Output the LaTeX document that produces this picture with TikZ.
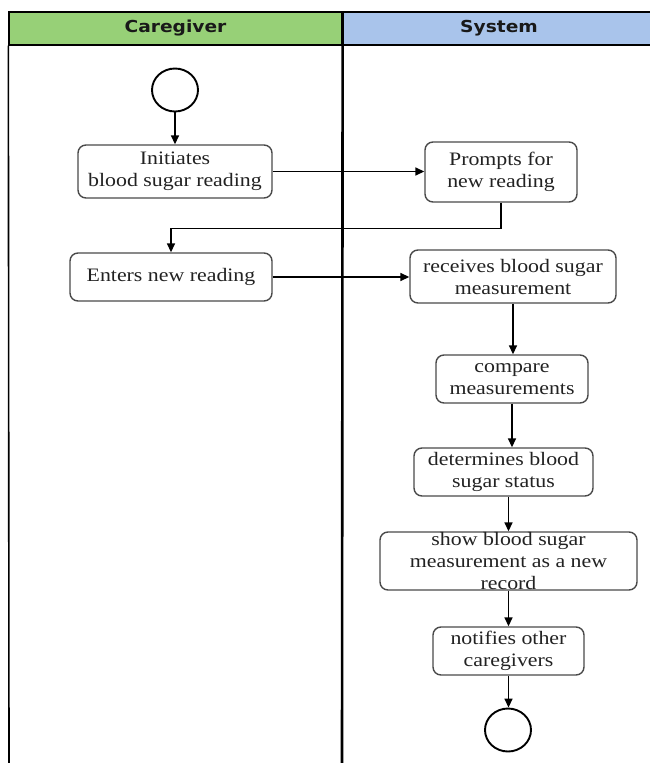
\documentclass[tikz,border=0pt]{standalone}
\usepackage{fontspec}
\setmainfont[FakeStretch=1.15]{Liberation Serif}
\newfontfamily\lanefont[FakeStretch=1.13]{DejaVu Sans}
\usetikzlibrary{arrows.meta,shapes.geometric}
\definecolor{cgreen}{HTML}{97D077}
\definecolor{sblue}{HTML}{A9C4EB}
\definecolor{boxline}{HTML}{4A4A4A}
\definecolor{txtcol}{HTML}{222222}
\begin{document}
\begin{tikzpicture}[x=1pt,y=-1pt,
  lanehead/.style={draw=black, line width=1.3pt, inner sep=0pt,
    font=\lanefont\bfseries\fontsize{16.5}{19}\selectfont, text=black!90},
  box/.style 2 args={draw=boxline, line width=1.4pt, rounded corners=8pt,
    fill=white, minimum width=#1pt, minimum height=#2pt, inner sep=0pt},
  txt/.style={align=center, font=\fontsize{19}{22}\selectfont,
    text=txtcol, inner sep=0pt},
  terminal/.style={draw=black, line width=1.9pt, ellipse, fill=white,
    minimum width=46pt, minimum height=43pt, inner sep=0pt},
  arr/.style={draw=black, line width=1.5pt,
    -{Triangle[length=9pt,width=8pt]}}
]
\clip (0,0) rectangle (650,763);
\fill[white] (0,0) rectangle (650,763);

% swimlane headers
\node[lanehead, fill=cgreen, minimum width=333pt, minimum height=33pt]
  (cg) at (175.5,28.5) {Caregiver};
\node[lanehead, fill=sblue, minimum width=314pt, minimum height=33pt]
  (sys) at (499,28.5) {System};

% lane borders
\coordinate (lb) at (9,763);
\coordinate (db) at (342,763);
\draw[line width=1.6pt] (cg.south west) -- (lb);
\draw[line width=2.6pt] (cg.north east) -- (db);

% start and end
\node[terminal] (start) at (175,90) {};
\node[terminal] (stop) at (508,730) {};

% activities
\node[box={194}{53}, label={[txt]center:{Initiates\\blood sugar reading}}]
  (b1) at (175,171.5) {};
\node[box={152}{60}, label={[txt]center:{Prompts for\\new reading}}]
  (b2) at (501,172) {};
\node[box={202}{48}, label={[txt]center:{Enters new reading}}]
  (b3) at (171,277) {};
\node[box={206}{53}, label={[txt]center:{receives blood sugar\\measurement}}]
  (b4) at (513,276.5) {};
\node[box={152}{48}, label={[txt]center:{compare\\measurements}}]
  (b5) at (512,379) {};
\node[box={179}{48}, label={[txt]center:{determines blood\\sugar status}}]
  (b6) at (503.5,472) {};
\node[box={257}{58}, label={[txt]center:{show blood sugar\\measurement as a new\\record}}]
  (b7) at (508.5,561) {};
\node[box={151}{48}, label={[txt]center:{notifies other\\caregivers}}]
  (b8) at (508.5,651) {};

% flows
\draw[arr] (start.south) -- (b1.north);
\draw[arr] (b1.east) -- (b1.east -| b2.west);
\draw[arr] (b2.south) -- ++(0,26) -| (b3.north);
\draw[arr] (b3.east) -- (b3.east -| b4.west);
\draw[arr] (b4.south) -- (b4.south |- b5.north);
\draw[arr] (b5.south) -- (b5.south |- b6.north);
\draw[arr] (b7.north |- b6.south) -- (b7.north);
\draw[arr] (b7.south) -- (b8.north);
\draw[arr] (b8.south) -- (b8.south |- stop.north);
\end{tikzpicture}
\end{document}
